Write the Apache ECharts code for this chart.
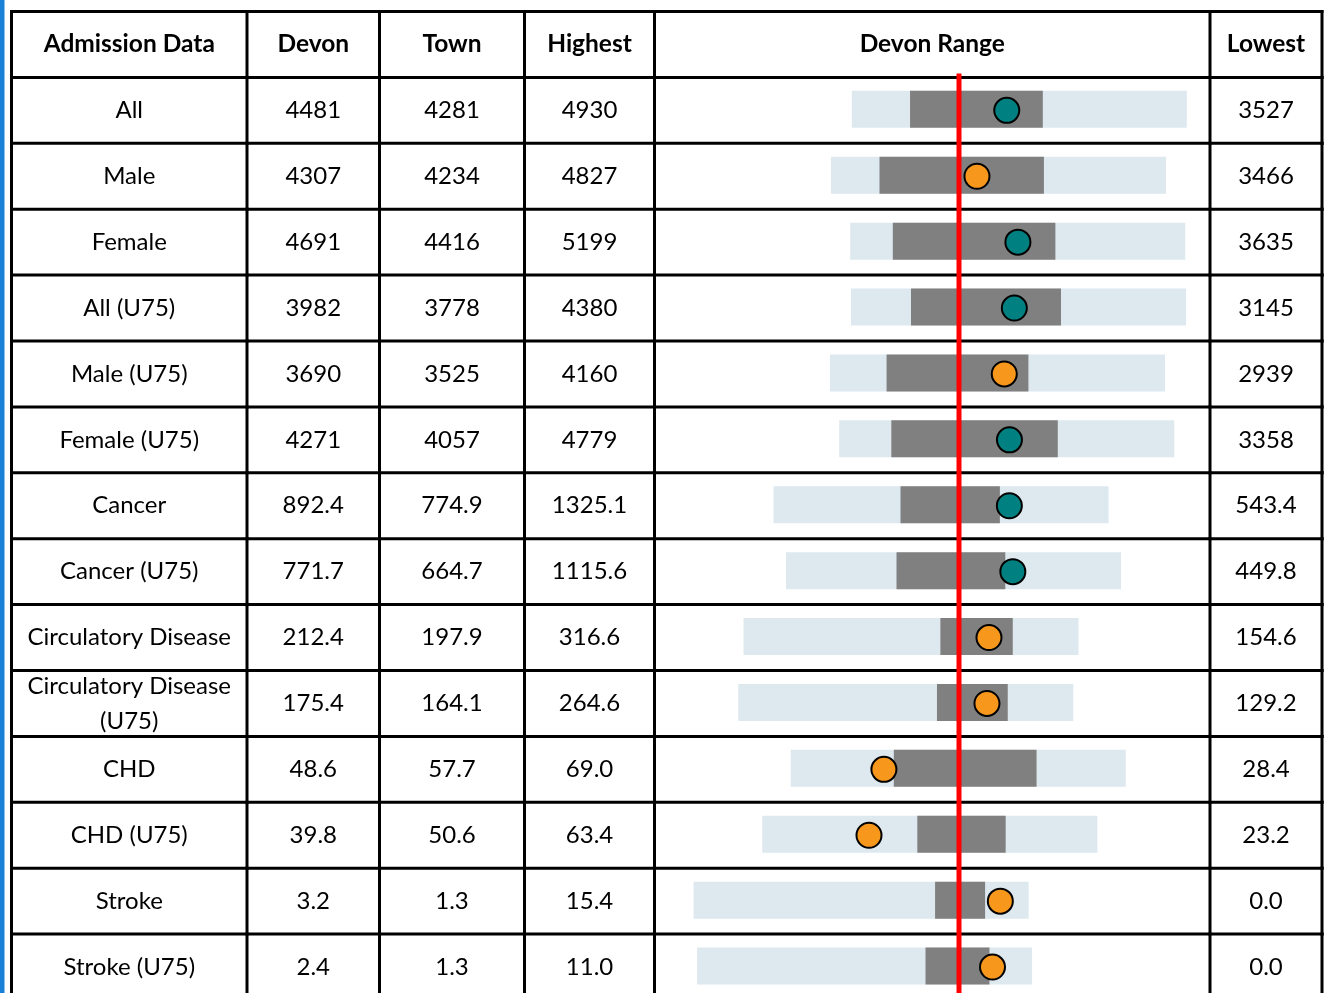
<!DOCTYPE html>
<html>
<head>
<meta charset="utf-8">
<script src="https://cdn.jsdelivr.net/npm/echarts@6/dist/echarts.min.js"></script>
<style>
html,body{margin:0;padding:0;background:#ffffff;}
#c{width:1328px;height:993px;}
</style>
</head>
<body>
<div id="c"></div>
<script>
// ---------------- data ----------------
const headers = ['Admission Data', 'Devon', 'Town', 'Highest', 'Devon Range', 'Lowest'];
const rowLabels = ['All', 'Male', 'Female', 'All (U75)', 'Male (U75)', 'Female (U75)', 'Cancer', 'Cancer (U75)',
  'Circulatory Disease', 'Circulatory Disease\n(U75)', 'CHD', 'CHD (U75)', 'Stroke', 'Stroke (U75)'];
const devon   = [4481, 4307, 4691, 3982, 3690, 4271, 892.4, 771.7, 212.4, 175.4, 48.6, 39.8, 3.2, 2.4];
const town    = [4281, 4234, 4416, 3778, 3525, 4057, 774.9, 664.7, 197.9, 164.1, 57.7, 50.6, 1.3, 1.3];
const highest = [4930, 4827, 5199, 4380, 4160, 4779, 1325.1, 1115.6, 316.6, 264.6, 69.0, 63.4, 15.4, 11.0];
const lowest  = [3527, 3466, 3635, 3145, 2939, 3358, 543.4, 449.8, 154.6, 129.2, 28.4, 23.2, 0.0, 0.0];
// interquartile range
const upperQuartile = [4686, 4630, 5000, 4159, 3954, 4558, 1028.9, 895.9, 221.4, 184.3, 56.5, 44.8, 4.3, 3.5];
const lowerQuartile = [4130, 3962, 4241, 3606, 3437, 3852, 797.0, 679.7, 186.4, 155.7, 39.2, 34.2, 2.0, 1.4];
// town marker significance (teal = significant, orange = not significant)
const townSignificant = [true, false, true, true, false, true, true, true, false, false, false, false, false, false];
const decimals = [0, 0, 0, 0, 0, 0, 1, 1, 1, 1, 1, 1, 1, 1];

// ---------------- layout / style ----------------
const W = 1328, H = 993;
const colEdges = [11.5, 247, 379.5, 524.5, 654.5, 1210, 1322];
const tableTop = 11.5, rowH = 65.9;
const spineCenterX = 959, spineUnitPx = 335;
const FONT = 'Lato';
const FS = 24, FS_HEAD = 24.5;
const C_LIGHT = '#dde8ef', C_DARK = '#808080', C_TEAL = '#008080', C_ORANGE = '#f7981d', C_RED = '#ff0000';

const nRows = rowLabels.length + 1;
const gridHeight = H - tableTop;
const yMin = -0.5, yMax = -0.5 + gridHeight / rowH;

const tableData = [];
for (let i = 0; i < nRows; i++) tableData.push([0, i]);

const spineData = rowLabels.map((_, k) => {
  const r = highest[k] - lowest[k];
  const u = v => (devon[k] - v) / r;
  return [u(highest[k]), u(lowest[k]), u(upperQuartile[k]), u(lowerQuartile[k]), k + 1];
});
const townData = rowLabels.map((_, k) => ({
  value: [(devon[k] - town[k]) / (highest[k] - lowest[k]), k + 1],
  itemStyle: { color: townSignificant[k] ? C_TEAL : C_ORANGE }
}));

const chart = echarts.init(document.getElementById('c'), null, { renderer: 'canvas' });

const option = {
  animation: false,
  backgroundColor: '#ffffff',
  graphic: [{
    type: 'rect', left: 0, top: 0, z: 10,
    shape: { x: 0, y: 0, width: 4.5, height: H },
    style: { fill: '#1a7fd6' }
  }],
  grid: [
    { left: 0, top: tableTop, width: W, height: gridHeight },
    { left: spineCenterX - spineUnitPx, top: tableTop, width: 2 * spineUnitPx, height: gridHeight }
  ],
  xAxis: [
    { type: 'value', gridIndex: 0, min: 0, max: W, show: false },
    { type: 'value', gridIndex: 1, min: -1, max: 1, show: false }
  ],
  yAxis: [
    { type: 'value', gridIndex: 0, min: yMin, max: yMax, inverse: true, show: false },
    { type: 'value', gridIndex: 1, min: yMin, max: yMax, inverse: true, show: false }
  ],
  series: [
    {
      type: 'custom', xAxisIndex: 0, yAxisIndex: 0, z: 1, silent: true, clip: false,
      data: tableData,
      renderItem: function (params, api) {
        const i = api.value(1);
        const c = api.coord([0, i]);
        const h = api.size([0, 1])[1];
        const yTop = c[1] - h / 2, yBot = c[1] + h / 2;
        const xs = colEdges.map(e => api.coord([e, i])[0]);
        const children = [];
        children.push({ type: 'line', shape: { x1: xs[0] - 1.5, y1: yTop, x2: xs[6] + 1.5, y2: yTop }, style: { stroke: '#000', lineWidth: 3 } });
        xs.forEach(x => children.push({ type: 'line', shape: { x1: x, y1: yTop - 1.5, x2: x, y2: yBot + 1.5 }, style: { stroke: '#000', lineWidth: 3 } }));
        let cells, bold = false;
        if (i === 0) { cells = headers; bold = true; }
        else {
          const k = i - 1, d = decimals[k];
          cells = [rowLabels[k], devon[k].toFixed(d), town[k].toFixed(d), highest[k].toFixed(d), '', lowest[k].toFixed(d)];
        }
        cells.forEach((t, j) => {
          if (!t) return;
          children.push({
            type: 'text', x: (xs[j] + xs[j + 1]) / 2, y: c[1],
            style: { text: t, align: 'center', verticalAlign: 'middle', fontFamily: FONT, fontSize: bold ? FS_HEAD : FS,
              fontWeight: bold ? 'bold' : 'normal', fill: '#000', lineHeight: 35 }
          });
        });
        return { type: 'group', children: children };
      }
    },
    {
      type: 'custom', xAxisIndex: 1, yAxisIndex: 1, z: 2, silent: true, clip: false,
      data: spineData,
      renderItem: function (params, api) {
        const row = api.value(4);
        const p1 = api.coord([api.value(0), row]), p2 = api.coord([api.value(1), row]);
        const q1 = api.coord([api.value(2), row]), q2 = api.coord([api.value(3), row]);
        const bh = 37;
        const y = p1[1] - bh / 2 - 1;
        return {
          type: 'group', children: [
            { type: 'rect', shape: { x: p1[0], y: y, width: p2[0] - p1[0], height: bh }, style: { fill: C_LIGHT } },
            { type: 'rect', shape: { x: q1[0], y: y, width: q2[0] - q1[0], height: bh }, style: { fill: C_DARK } }
          ]
        };
      }
    },
    {
      type: 'custom', xAxisIndex: 1, yAxisIndex: 1, z: 3, silent: true, clip: false,
      data: [[0, 1]],
      renderItem: function (params, api) {
        const p = api.coord([api.value(0), api.value(1)]);
        const h = api.size([0, 1])[1];
        return { type: 'line', shape: { x1: p[0], y1: p[1] - h / 2 - 4, x2: p[0], y2: api.getHeight() }, style: { stroke: C_RED, lineWidth: 5 } };
      }
    },
    {
      type: 'scatter', xAxisIndex: 1, yAxisIndex: 1, z: 4, silent: true, clip: false,
      symbol: 'circle', symbolSize: 25,
      itemStyle: { borderColor: '#000', borderWidth: 2, opacity: 1 },
      data: townData
    }
  ]
};
chart.setOption(option);
</script>
</body>
</html>
